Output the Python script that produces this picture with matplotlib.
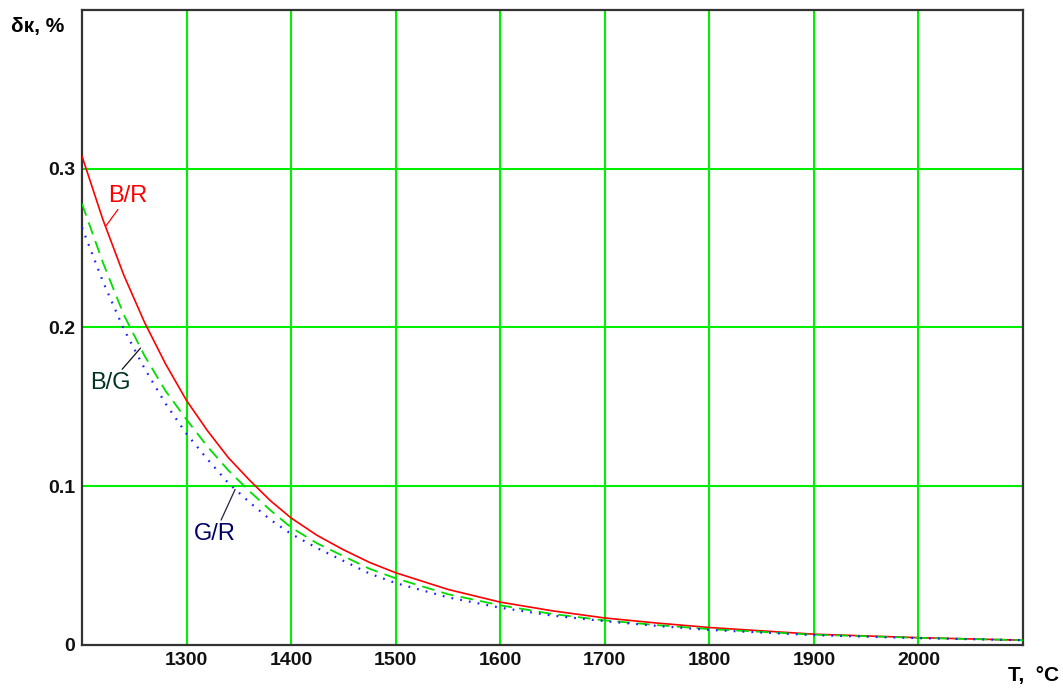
import matplotlib
matplotlib.use("Agg")
import matplotlib.pyplot as plt

## Data
temps = [1200, 1220, 1240, 1260, 1280, 1300, 1320, 1340, 1360, 1380, 1400,
         1425, 1450, 1475, 1500, 1550, 1600, 1650, 1700, 1750, 1800, 1900, 2000, 2100]
delta_br = [0.308, 0.268, 0.233, 0.203, 0.177, 0.154, 0.135, 0.118, 0.104, 0.091, 0.080,
            0.069, 0.060, 0.052, 0.0455, 0.035, 0.027, 0.0215, 0.017, 0.0138, 0.011,
            0.0068, 0.0046, 0.003]
delta_bg = [0.278, 0.241, 0.208, 0.182, 0.160, 0.142, 0.125, 0.110, 0.097, 0.085, 0.074,
            0.064, 0.056, 0.048, 0.042, 0.032, 0.025, 0.0195, 0.0155, 0.0125, 0.010,
            0.0065, 0.0045, 0.003]
delta_gr = [0.263, 0.229, 0.199, 0.174, 0.152, 0.133, 0.117, 0.102, 0.090, 0.079, 0.070,
            0.061, 0.053, 0.045, 0.039, 0.030, 0.0235, 0.0185, 0.015, 0.012, 0.0095,
            0.0062, 0.0043, 0.003]

x_ticks = [1300, 1400, 1500, 1600, 1700, 1800, 1900, 2000]
y_ticks = [0, 0.1, 0.2, 0.3]
y_ticklabels = ["0", "0.1", "0.2", "0.3"]

plt.rcParams["font.family"] = ["Liberation Sans", "DejaVu Sans"]

fig = plt.figure(figsize=(10.63, 6.89), dpi=100)
ax = fig.add_axes([0.0771, 0.0639, 0.8853, 0.9216])

grid_green = "#00ee00"
for xv in x_ticks:
    ax.axvline(xv, color=grid_green, lw=1.5, zorder=1)
for yv in y_ticks[1:]:
    ax.axhline(yv, color=grid_green, lw=1.5, zorder=1)

ax.plot(temps, delta_br, color="#ff0000", lw=1.2, zorder=3)
ax.plot(temps, delta_bg, color="#00dd00", lw=1.3, dashes=(7, 4), zorder=3)
ax.plot(temps, delta_gr, color="#2020ff", lw=1.6, dashes=(0.8, 3.2), zorder=3)

ax.set_xlim(1200, 2100)
ax.set_ylim(0, 0.4)
ax.set_xticks(x_ticks)
ax.set_yticks(y_ticks)
ax.set_yticklabels(y_ticklabels)
ax.tick_params(length=0, labelsize=14, pad=5)
for lab in ax.get_xticklabels() + ax.get_yticklabels():
    lab.set_fontweight("bold")
    lab.set_color("#111111")

for sp in ax.spines.values():
    sp.set_color("#333333")
    sp.set_linewidth(1.6)

## Curve labels with leader lines
ax.annotate("B/R", xy=(1223, 0.264), xytext=(1244, 0.283), color="#ff0000", fontsize=17,
            ha="center", va="center",
            arrowprops=dict(arrowstyle="-", color="#ff0000", lw=0.9, shrinkA=0, shrinkB=0))
ax.annotate("B/G", xy=(1256, 0.187), xytext=(1227, 0.165), color="#003322", fontsize=17,
            ha="center", va="center",
            arrowprops=dict(arrowstyle="-", color="#111111", lw=0.9, shrinkA=0, shrinkB=0))
ax.annotate("G/R", xy=(1346.5, 0.098), xytext=(1327, 0.070), color="#000066", fontsize=17,
            ha="center", va="center",
            arrowprops=dict(arrowstyle="-", color="#222244", lw=0.9, shrinkA=0, shrinkB=0))

fig.text(0.010, 0.962, "δк, %", fontsize=15, fontweight="bold", ha="left", va="center")
fig.text(0.948, 0.020, "T,  °C", fontsize=15, fontweight="bold", ha="left", va="center")

fig.savefig("out.png", dpi=100)
